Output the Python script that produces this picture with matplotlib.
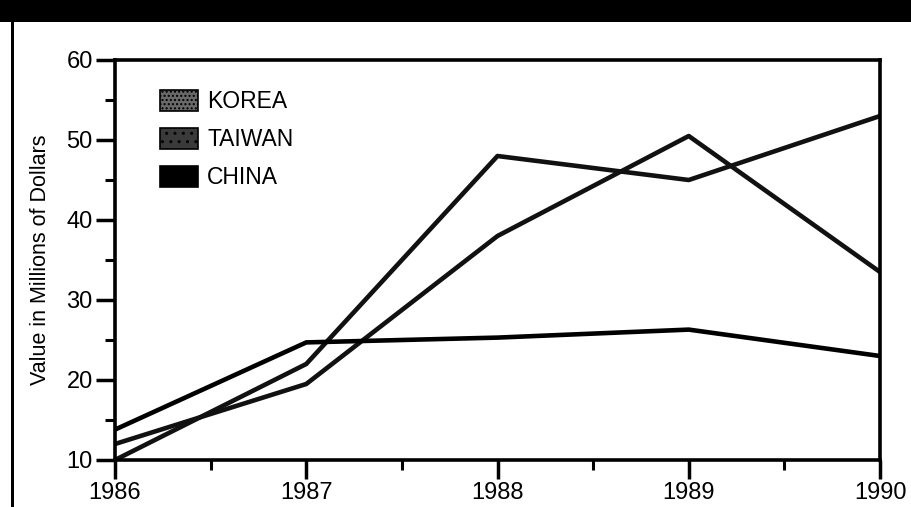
import matplotlib
matplotlib.use("Agg")
import matplotlib.pyplot as plt
from matplotlib.patches import Patch, Rectangle
from matplotlib.ticker import MultipleLocator

plt.rcParams['font.family'] = ['Liberation Sans', 'DejaVu Sans']

years = [1986, 1987, 1988, 1989, 1990]
korea = [10.0, 22.0, 48.0, 45.0, 53.0]
taiwan = [12.0, 19.5, 38.0, 50.5, 33.5]
china = [13.8, 24.7, 25.3, 26.3, 23.0]
series_names = ["KOREA", "TAIWAN", "CHINA"]
y_label = "Value in Millions of Dollars"

fig = plt.figure(figsize=(9.11, 5.07), dpi=100)
ax = fig.add_axes([115/911, 1-460/507, (880-115)/911, (460-60)/507])

ax.plot(years, korea, color='#111111', lw=3.3, solid_capstyle='butt')
ax.plot(years, taiwan, color='#111111', lw=3.3, solid_capstyle='butt')
ax.plot(years, china, color='#000000', lw=3.3, solid_capstyle='butt')

ax.set_xlim(1986, 1990)
ax.set_ylim(10, 60)
ax.set_xticks(years)
ax.set_xticklabels([str(y) for y in years])
ax.xaxis.set_minor_locator(MultipleLocator(0.5))
ax.yaxis.set_major_locator(MultipleLocator(10))
ax.yaxis.set_minor_locator(MultipleLocator(5))
ax.tick_params(axis='both', which='major', direction='out', length=14, width=2.5,
               labelsize=17, pad=2, color='black')
ax.tick_params(axis='both', which='minor', direction='out', length=7, width=2.2)
for s in ax.spines.values():
    s.set_linewidth(2.6)
ax.set_ylabel(y_label, fontsize=15.5, labelpad=11)

handles = [Patch(facecolor='#6a6a6a', edgecolor='black', hatch='....', lw=1.2),
           Patch(facecolor='#3a3a3a', edgecolor='black', hatch='..', lw=1.2),
           Patch(facecolor='#000000', edgecolor='black', lw=1.2)]
leg = ax.legend(handles, series_names, loc='upper left', bbox_to_anchor=(0.059, 0.925),
                frameon=False, fontsize=16.5, handlelength=1.65, handleheight=1.0,
                handletextpad=0.4, labelspacing=0.65, borderaxespad=0, borderpad=0)

# scan frame: dark band at top and line at left
fig.patches.append(Rectangle((0, 1-22/507), 1, 22/507, transform=fig.transFigure,
                             facecolor='black', edgecolor='none'))
fig.patches.append(Rectangle((11/911, 0), 2.5/911, 1, transform=fig.transFigure,
                             facecolor='black', edgecolor='none'))

fig.savefig('out.png', dpi=100)
